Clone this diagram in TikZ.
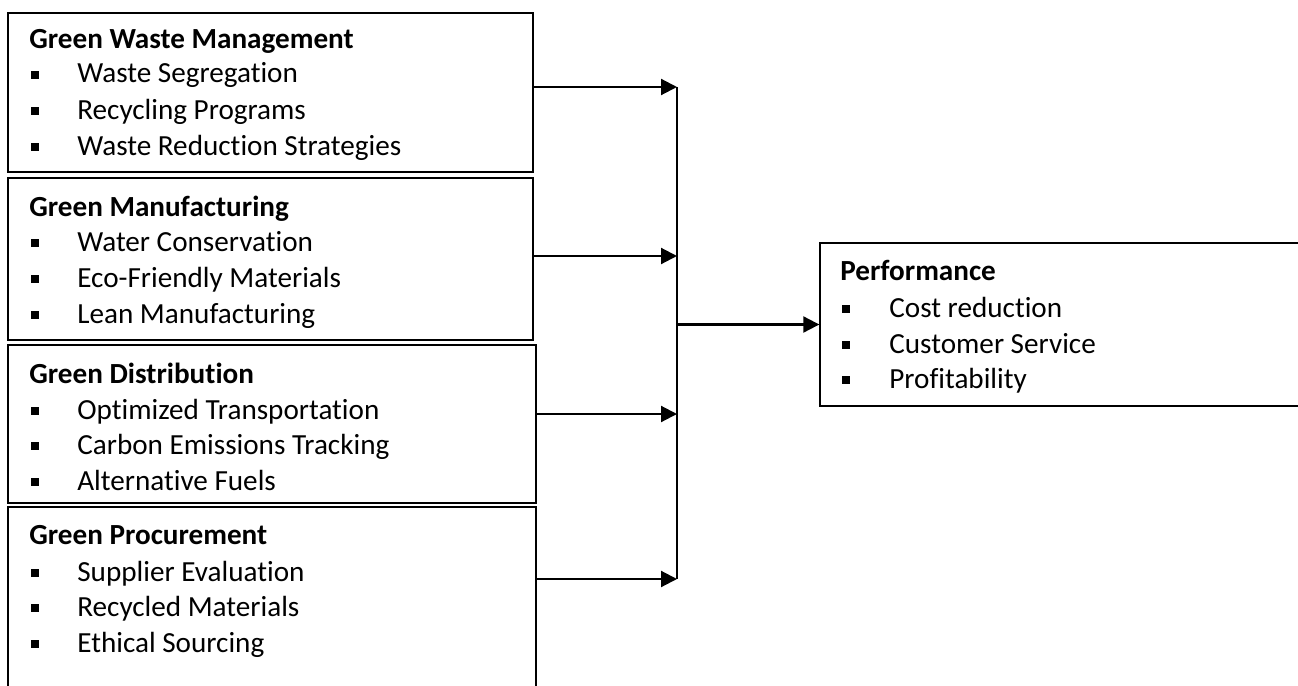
\documentclass[tikz,border=0pt]{standalone}
\usepackage{fontspec}
\setmainfont{Carlito}[Ligatures=NoCommon]
\usetikzlibrary{arrows.meta,positioning}

\begin{document}
\begin{tikzpicture}[x=0.02cm,y=-0.02cm,>={Triangle[length=0.32cm,width=0.32cm]},
  font=\fontsize{16.6}{20}\selectfont,
  box/.style={draw,line width=.85pt,inner sep=0pt},
  itm/.style={anchor=base west,inner sep=0pt},
  ttl/.style={itm,font=\fontsize{16.6}{20}\selectfont\bfseries},
  blt/.style={fill,minimum size=0.155cm,inner sep=0pt},
  flow/.style={->,line width=1.2pt}]
\useasboundingbox (0,0) rectangle (1298,686);
\clip (0,0) rectangle (1298,686);
% boxes
\node[box,minimum width=10.5cm,minimum height=3.18cm] (wm) at (270.5,92.5) {};
\node[box,minimum width=10.5cm,minimum height=3.24cm] (mf) at (270.5,259) {};
\node[box,minimum width=10.56cm,minimum height=3.16cm] (ds) at (272,424) {};
\node[box,minimum width=10.56cm,minimum height=4.4cm] (pc) at (272,617) {};
\node[box,minimum width=10.4cm,minimum height=3.26cm] (perf) at (1080,324.5) {};
% texts
\node[ttl] (wm-t) at (29,49) {Green Waste Management};
\foreach \k/\y/\txt in {1/83/Waste Segregation,2/119/Recycling Programs,
  3/155/Waste Reduction Strategies}{
  \node[blt] (wm-b\k) at (35,\y-8) {};
  \node[itm] (wm-\k) at (77,\y) {\txt};
}
\node[ttl] (mf-t) at (29,216) {Green Manufacturing};
\foreach \k/\y/\txt in {1/251/Water Conservation,2/287/Eco-Friendly Materials,
  3/323/Lean Manufacturing}{
  \node[blt] (mf-b\k) at (35,\y-8) {};
  \node[itm] (mf-\k) at (77,\y) {\txt};
}
\node[ttl] (ds-t) at (29,383) {Green Distribution};
\foreach \k/\y/\txt in {1/419/Optimized Transportation,2/454/Carbon Emissions Tracking,
  3/490/Alternative Fuels}{
  \node[blt] (ds-b\k) at (35,\y-8) {};
  \node[itm] (ds-\k) at (77,\y) {\txt};
}
\node[ttl] (pc-t) at (29,544) {Green Procurement};
\foreach \k/\y/\txt in {1/581/Supplier Evaluation,2/616/Recycled Materials,
  3/652/Ethical Sourcing}{
  \node[blt] (pc-b\k) at (35,\y-8) {};
  \node[itm] (pc-\k) at (77,\y) {\txt};
}
\node[ttl] (perf-t) at (840,280) {Performance};
\foreach \k/\y/\txt in {1/317/Cost reduction,2/353/Customer Service,
  3/388/Profitability}{
  \node[blt] (perf-b\k) at (846,\y-8) {};
  \node[itm] (perf-\k) at (889,\y) {\txt};
}
% connectors
\coordinate (j1) at (677,87);
\coordinate (j2) at (677,256);
\coordinate (j3) at (677,414);
\coordinate (j4) at (677,579);
\coordinate (jm) at (677,324.5);
\draw[line width=.8pt] (j1)--(j4);
\draw[flow] (wm.east |- j1)--(j1);
\draw[flow] (mf.east |- j2)--(j2);
\draw[flow] (ds.east |- j3)--(j3);
\draw[flow] (pc.east |- j4)--(j4);
\draw[flow] (jm)--(perf.west);
\end{tikzpicture}
\end{document}
